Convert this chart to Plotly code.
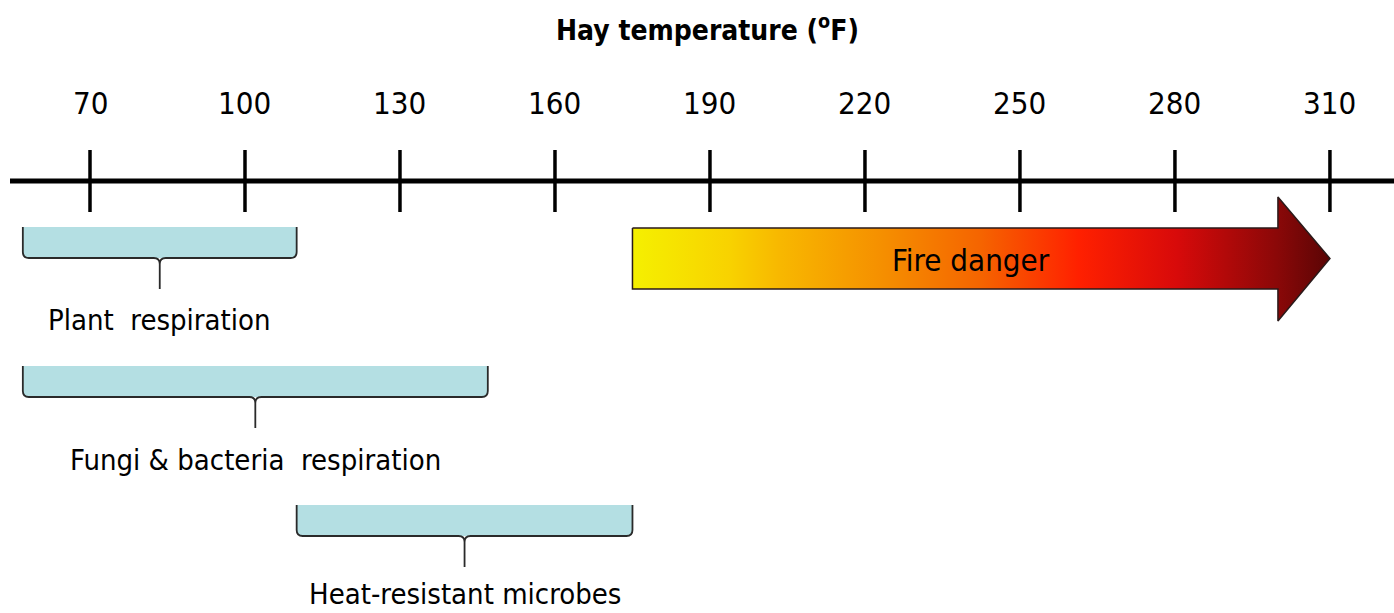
import plotly.graph_objects as go

# ---- data ----
tick_values = [70, 100, 130, 160, 190, 220, 250, 280, 310]
tick_labels = ["70", "100", "130", "160", "190", "220", "250", "280", "310"]
axis_title = "Hay temperature (<sup>o</sup>F)"
range_names = ["Plant  respiration", "Fungi & bacteria  respiration", "Heat-resistant microbes"]
range_start = [57, 57, 110]
range_end = [110, 147, 175]
fire_label = "Fire danger"
fire_start = 175
fire_end = 310

# ---- layout constants (pixel-based y axis) ----
W, H = 1394, 613
X_MIN, X_MAX = 52.58, 322.4
px = (X_MAX - X_MIN) / W  # data units per pixel

FONT = "Liberation Sans Narrow, Arial Narrow, DejaVu Sans Condensed, sans-serif"
AXIS_Y = 181
TICK_TOP, TICK_BOT = 150, 212
ROW_TOPS = [227, 366, 505]
LABEL_Y = [320, 460, 594]
BAR_H = 31
SPIKE = 31

fig = go.Figure()
shapes = []
annotations = []

# main axis line
shapes.append(dict(type="line", xref="x", yref="y", x0=X_MIN + 10 * px, x1=X_MAX,
                   y0=AXIS_Y, y1=AXIS_Y, line=dict(color="black", width=5)))
for tv, tl in zip(tick_values, tick_labels):
    shapes.append(dict(type="line", xref="x", yref="y", x0=tv, x1=tv,
                       y0=TICK_TOP, y1=TICK_BOT, line=dict(color="black", width=3.5)))
    annotations.append(dict(x=tv, y=103, xref="x", yref="y", text=tl, showarrow=False,
                            font=dict(family=FONT, size=31, color="black"),
                            xanchor="center", yanchor="middle"))

annotations.append(dict(x=(X_MIN + X_MAX) / 2 + 2, y=28, xref="x", yref="y", text=axis_title,
                        showarrow=False, font=dict(family=FONT, size=28, color="black", weight="bold"),
                        xanchor="center", yanchor="middle"))

# brace bars
rx = 6 * px
ry = 6
for name, s, e, top, ly in zip(range_names, range_start, range_end, ROW_TOPS, LABEL_Y):
    bot = top + BAR_H
    m = (s + e) / 2
    sp = bot + SPIKE
    outline = (f"M {s},{top} L {s},{bot - ry} Q {s},{bot} {s + rx},{bot} "
               f"L {m - rx},{bot} Q {m},{bot} {m},{bot + ry} L {m},{sp} "
               f"L {m},{bot + ry} Q {m},{bot} {m + rx},{bot} "
               f"L {e - rx},{bot} Q {e},{bot} {e},{bot - ry} L {e},{top}")
    fillpath = (f"M {s},{top} L {s},{bot - ry} Q {s},{bot} {s + rx},{bot} "
                f"L {e - rx},{bot} Q {e},{bot} {e},{bot - ry} L {e},{top} Z")
    shapes.append(dict(type="path", xref="x", yref="y", path=fillpath,
                       fillcolor="#b4dfe3", line=dict(width=0)))
    shapes.append(dict(type="path", xref="x", yref="y", path=outline,
                       line=dict(color="#2a2a2a", width=1.8)))
    annotations.append(dict(x=m, y=ly, xref="x", yref="y", text=name,
                            showarrow=False, font=dict(family=FONT, size=29, color="black"),
                            xanchor="center", yanchor="middle"))

# fire danger arrow
head_len = 52 * px
body_top, body_bot = 228, 289
head_top, head_bot = 197, 321
mid = (body_top + body_bot) / 2
hx = fire_end - head_len
ax = [fire_start, hx, hx, fire_end, hx, hx, fire_start, fire_start]
ay = [body_top, body_top, head_top, mid, head_bot, body_bot, body_bot, body_top]
fig.add_trace(go.Scatter(
    x=ax, y=ay, mode="lines", fill="toself",
    line=dict(color="#2a1a1a", width=1.5),
    fillgradient=dict(type="horizontal", colorscale=[
        [0.0, "#f5f000"], [0.14, "#f8d200"], [0.21, "#f8b800"], [0.355, "#f59000"],
        [0.5, "#f56400"], [0.64, "#ff2000"], [0.78, "#d80a0a"], [0.925, "#8a0808"],
        [1.0, "#5a0505"]]),
    hoverinfo="skip", showlegend=False))
annotations.append(dict(x=(fire_start + hx) / 2 + 3, y=mid + 1, xref="x", yref="y", text=fire_label,
                        showarrow=False, font=dict(family=FONT, size=31, color="black"),
                        xanchor="center", yanchor="middle"))

fig.update_layout(
    width=W, height=H, margin=dict(l=0, r=0, t=0, b=0),
    paper_bgcolor="white", plot_bgcolor="white",
    xaxis=dict(range=[X_MIN, X_MAX], visible=False, fixedrange=True),
    yaxis=dict(range=[H, 0], visible=False, fixedrange=True),
    shapes=shapes, annotations=annotations, showlegend=False,
)

fig.write_html("out.html")
